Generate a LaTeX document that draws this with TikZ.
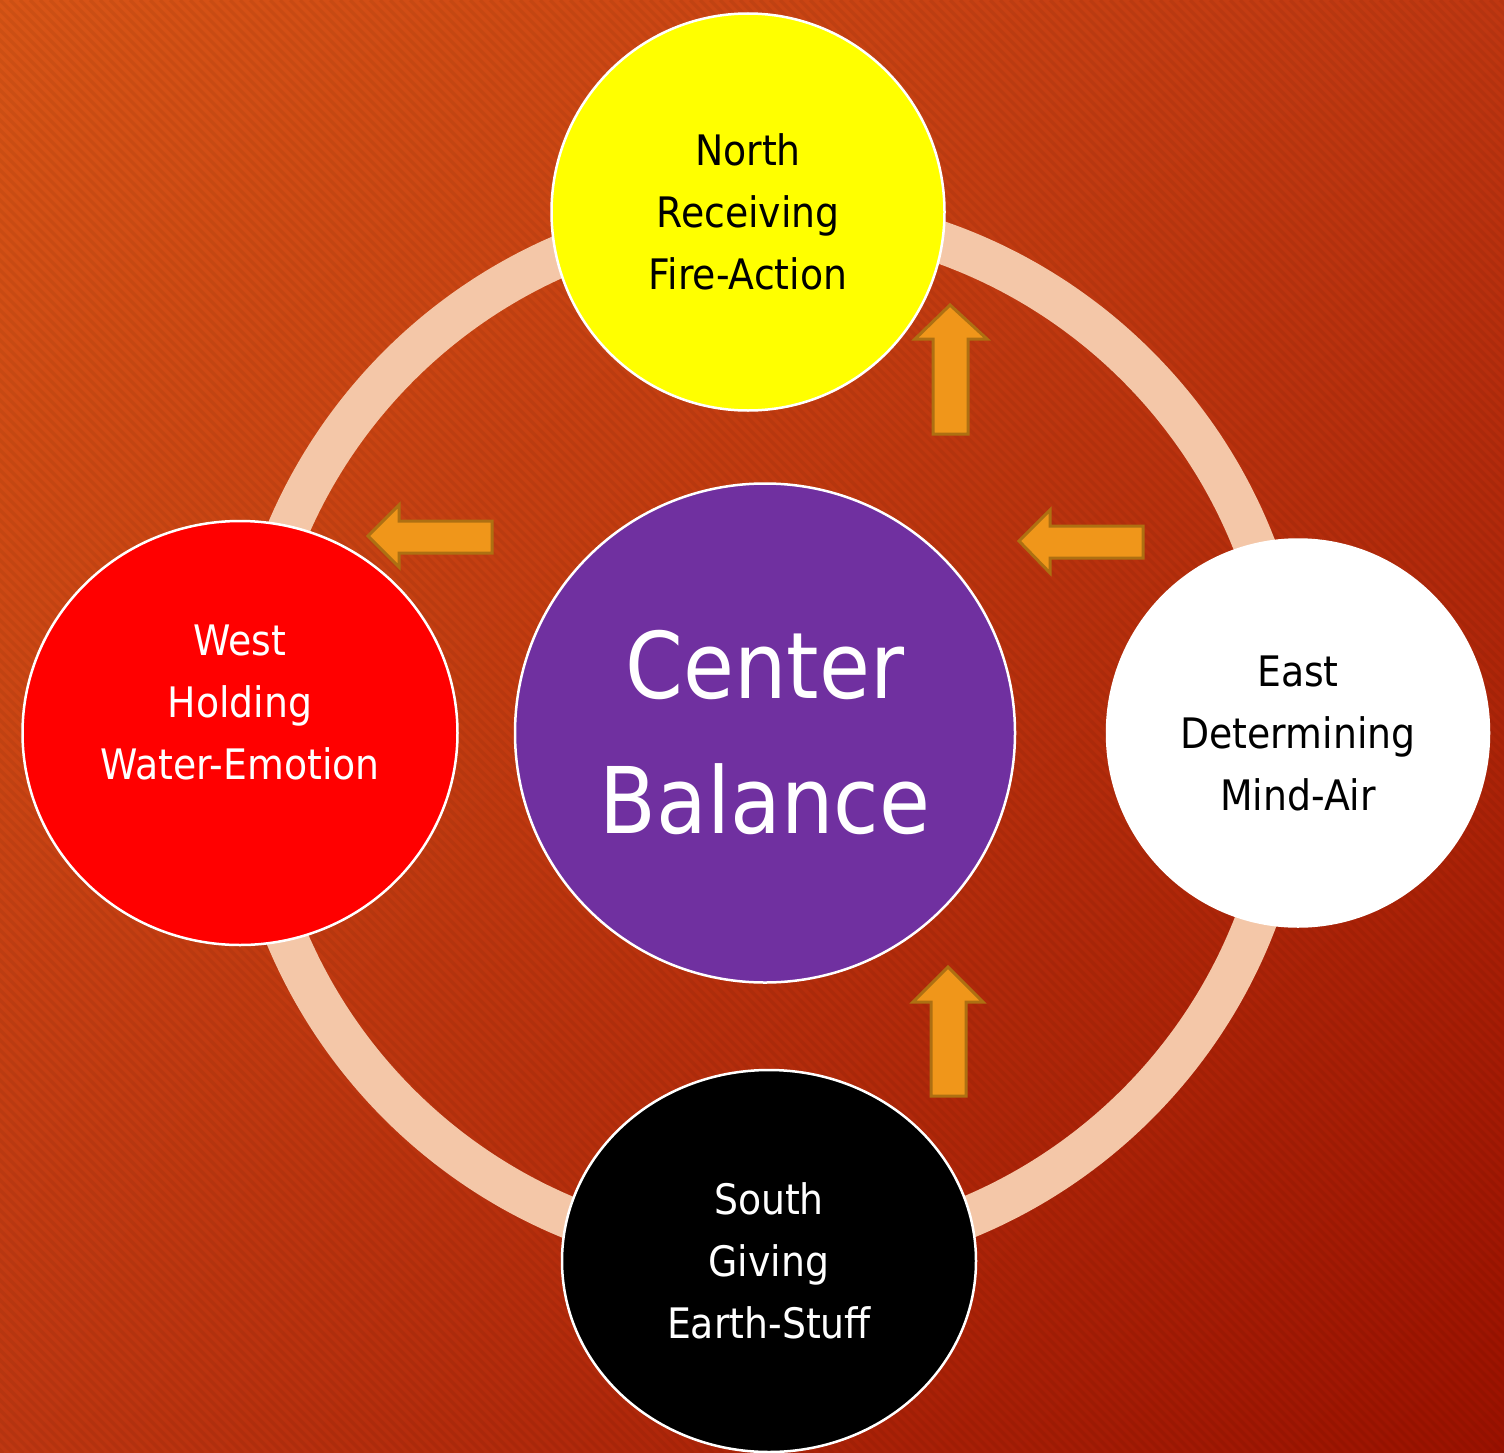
\documentclass[tikz,border=0pt]{standalone}
\usepackage{fontspec}
\setmainfont{DejaVu Sans}[FakeStretch=0.9]
\usetikzlibrary{shapes.geometric,shadings}
\definecolor{bgA}{HTML}{D85516}
\definecolor{bgB}{HTML}{BF3711}
\definecolor{bgC}{HTML}{9B1100}
\definecolor{ringc}{HTML}{F4C7A8}
\definecolor{northc}{HTML}{FFFF00}
\definecolor{westc}{HTML}{FF0000}
\definecolor{centerc}{HTML}{7030A0}
\definecolor{arrowfill}{HTML}{F0961A}
\definecolor{arrowline}{HTML}{AE7012}
\begin{document}
\begin{tikzpicture}[x=1pt,y=-1pt,
  dirnode/.style={ellipse, draw=white, line width=2.5pt, inner sep=0pt, align=center,
    font=\fontsize{42}{62}\selectfont},
  centernode/.style={ellipse, draw=white, line width=2.5pt, inner sep=0pt, align=center,
    font=\fontsize{92}{135}\selectfont},
  blockarrow/.style={fill=arrowfill, draw=arrowline, line width=3pt, line join=miter},
  stripe/.style={black, opacity=0.05, line width=3.5pt}]
\useasboundingbox (0,0) rectangle (1504,1453);
% background
\shade[upper left=bgA, upper right=bgB, lower left=bgB, lower right=bgC] (0,0) rectangle (1504,1453);
\begin{scope}
  \clip (0,0) rectangle (1504,1453);
  \foreach \k in {-1460,-1450,...,1510} {
    \draw[stripe] (\k,0) -- ++(1453,1453);
  }
\end{scope}
% ring
\coordinate (ringctr) at (768,735);
\draw[ringc, line width=42pt] (ringctr) circle[radius=522];
% nodes
\node[dirnode, fill=northc, text=black, minimum width=393pt, minimum height=397pt] (north) at (748,212) {North\\Receiving\\Fire-Action};
\node[dirnode, fill=westc, text=white, minimum width=435pt, minimum height=424pt] (west) at (240,733) {West\\Holding\\Water-Emotion\\~};
\node[dirnode, fill=white, text=black, minimum width=382pt, minimum height=387pt] (east) at (1298,733) {East\\Determining\\Mind-Air};
\node[dirnode, fill=black, text=white, minimum width=414pt, minimum height=382pt] (south) at (769,1261) {South\\Giving\\Earth-Stuff};
\node[centernode, fill=centerc, text=white, minimum width=500pt, minimum height=499pt] (center) at (765,733) {Center\\Balance};
% block arrows
\draw[blockarrow] (950,305) -- (987,339) -- (968,339) -- (968,434) -- (933,434) -- (933,339) -- (915,339) -- cycle;
\draw[blockarrow] (948,967) -- (983,1002) -- (966,1002) -- (966,1096) -- (931,1096) -- (931,1002) -- (913,1002) -- cycle;
\draw[blockarrow] (368,536) -- (399,505) -- (399,521) -- (492,521) -- (492,553) -- (399,553) -- (399,567) -- cycle;
\draw[blockarrow] (1019,541) -- (1050,510) -- (1050,526) -- (1143,526) -- (1143,558) -- (1050,558) -- (1050,573) -- cycle;
\end{tikzpicture}
\end{document}
